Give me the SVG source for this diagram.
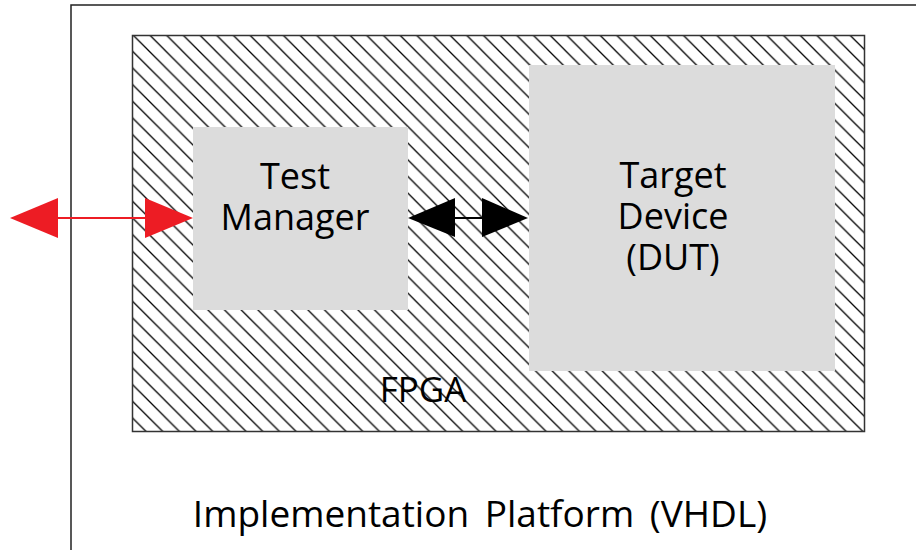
<svg xmlns="http://www.w3.org/2000/svg" width="916" height="550" viewBox="0 0 916 550">
  <style>
    .lbl { font-family: "Open Sans", "Noto Sans", sans-serif; fill: #000; text-anchor: middle; }
    .block { fill: #dcdcdc; }
  </style>
  <defs>
    <!-- 45-degree hatching for the FPGA fabric -->
    <pattern id="hatch" patternUnits="userSpaceOnUse" x="98" y="0" width="16.67" height="16.67">
      <path d="M0,0 L16.67,16.67 M-2,14.67 L2,18.67 M14.67,-2 L18.67,2" stroke="#000" stroke-width="1.3" fill="none"/>
    </pattern>
  </defs>

  <rect width="916" height="550" fill="#fff"/>

  <!-- implementation platform boundary (runs past the right and bottom edges) -->
  <g id="platform">
    <path d="M71,560 L71,5 L930,5" fill="none" stroke="#222" stroke-width="1.5"/>
    <text class="lbl" x="480" y="527" font-size="37" word-spacing="6">Implementation Platform (VHDL)</text>
  </g>

  <g id="fpga">
    <rect x="132.5" y="35.5" width="732" height="396" fill="url(#hatch)" stroke="#333" stroke-width="1.5"/>
    <text class="lbl" x="423" y="402" font-size="35">FPGA</text>
  </g>

  <g id="test-manager">
    <rect class="block" x="193" y="127" width="215" height="183"/>
    <text class="lbl" x="295" y="189" font-size="36">Test</text>
    <text class="lbl" x="295" y="230" font-size="36">Manager</text>
  </g>

  <g id="target-device">
    <rect class="block" x="529" y="65" width="306" height="306"/>
    <text class="lbl" x="673" y="188" font-size="36">Target</text>
    <text class="lbl" x="673" y="229" font-size="36">Device</text>
    <text class="lbl" x="673" y="270" font-size="36">(DUT)</text>
  </g>

  <g id="connectors">
    <!-- external link into the test manager -->
    <line x1="56" y1="218" x2="147" y2="218" stroke="#ed1c24" stroke-width="2"/>
    <polygon points="10,218 58,198 58,238" fill="#ed1c24"/>
    <polygon points="193,218 145,198 145,238" fill="#ed1c24"/>
    <!-- test manager to device under test -->
    <line x1="453" y1="218" x2="484" y2="218" stroke="#000" stroke-width="2"/>
    <polygon points="408,218 455,198 455,237" fill="#000"/>
    <polygon points="528,218 482,198 482,237" fill="#000"/>
  </g>
</svg>
